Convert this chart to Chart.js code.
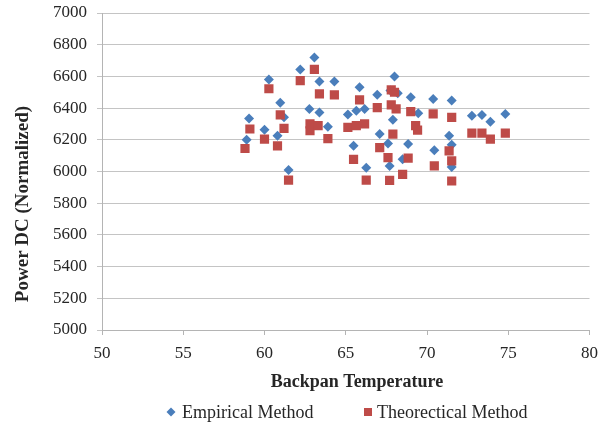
<!DOCTYPE html>
<html>
<head>
<meta charset="utf-8">
<script src="https://cdn.jsdelivr.net/npm/chart.js@4.4.0/dist/chart.umd.min.js"></script>
<style>
  html, body { margin: 0; padding: 0; background: #fff; }
  #chart { display: block; }
</style>
</head>
<body>
<canvas id="chart" width="606" height="430"></canvas>
<script>
// series
const seriesNames = ['Empirical Method', 'Theorectical Method'];
const seriesColors = ['#4a7ebb', '#be4b48'];
const xTitle = 'Backpan Temperature';
const yTitle = 'Power DC (Normalized)';

const empiricalTemp = [58.9, 59.05, 60.0, 60.27, 60.8, 60.97, 61.2, 61.48, 62.2, 62.76,
  63.07, 63.38, 63.38, 63.9, 64.3, 65.13, 65.48, 65.65, 65.85, 66.16,
  66.26, 66.94, 67.09, 67.6, 67.7, 67.75, 68.2, 67.9, 68.0, 68.5,
  68.84, 69.0, 69.46, 70.38, 70.45, 71.36, 71.52, 71.52, 71.52, 72.76,
  73.38, 73.9, 74.82];
const empiricalPower = [6200, 6335, 6263, 6580, 6225, 6433, 6342, 6009, 6644, 6395,
  6719, 6568, 6373, 6282, 6568, 6359, 6162, 6384, 6532, 6395,
  6024, 6484, 6236, 6176, 6035, 6511, 6494, 6327, 6600, 6077,
  6173, 6469, 6368, 6458, 6134, 6225, 6168, 6448, 6028, 6352,
  6357, 6314, 6363];

const theoreticalTemp = [58.8, 59.1, 60.0, 60.27, 60.8, 60.97, 61.2, 61.48, 62.2, 62.8,
  62.8, 63.3, 63.07, 63.38, 63.9, 64.3, 65.13, 65.48, 65.65, 65.85,
  66.16, 66.26, 66.94, 67.09, 67.6, 67.7, 67.8, 68.0, 67.8, 68.1,
  67.9, 68.5, 68.84, 69.0, 69.3, 69.42, 70.38, 70.45, 71.36, 71.52,
  71.52, 71.52, 72.76, 73.38, 73.9, 74.82];
const theoreticalPower = [6145, 6268, 6204, 6522, 6162, 6357, 6272, 5946, 6573, 6300,
  6257, 6290, 6644, 6490, 6208, 6484, 6278, 6077, 6289, 6452,
  6300, 5946, 6403, 6151, 6088, 5944, 6515, 6500, 6420, 6395,
  6236, 5982, 6084, 6378, 6289, 6261, 6363, 6035, 6130, 6342,
  6067, 5940, 6242, 6242, 6204, 6242];

const xTicks = [50, 55, 60, 65, 70, 75, 80];
const yTicks = [5000, 5200, 5400, 5600, 5800, 6000, 6200, 6400, 6600, 6800, 7000];

const serif = '"Liberation Serif", "Times New Roman", serif';
const textColor = '#262626';

function toPoints(xs, ys) {
    return xs.map((x, i) => ({ x: x, y: ys[i] }));
}

// axis titles and legend, placed the way Excel placed them
const excelLabels = {
    id: 'excelLabels',
    afterDraw(chart) {
        const c = chart.ctx;
        c.save();
        c.fillStyle = textColor;
        c.textBaseline = 'middle';
        c.textAlign = 'center';

        // titles
        c.font = 'bold 18px ' + serif;
        c.fillText(xTitle, 357, 382);
        c.save();
        c.translate(23, 204);
        c.rotate(-Math.PI / 2);
        c.font = 'bold 19px ' + serif;
        c.fillText(yTitle, 0, 0);
        c.restore();

        // legend
        const y = 412;
        c.font = '18px ' + serif;
        c.textAlign = 'left';

        c.fillStyle = seriesColors[0];
        c.beginPath();
        c.moveTo(171, y - 4.5);
        c.lineTo(175.5, y);
        c.lineTo(171, y + 4.5);
        c.lineTo(166.5, y);
        c.closePath();
        c.fill();
        c.fillStyle = textColor;
        c.fillText(chart.data.datasets[0].label, 182, y + 1);

        c.fillStyle = seriesColors[1];
        c.fillRect(364, y - 4, 8, 8);
        c.fillStyle = textColor;
        c.fillText(chart.data.datasets[1].label, 377, y + 1);
        c.restore();
    }
};

const ctx = document.getElementById('chart').getContext('2d');

new Chart(ctx, {
    type: 'scatter',
    data: {
        datasets: [{
            label: seriesNames[0],
            data: toPoints(empiricalTemp, empiricalPower),
            pointStyle: 'rectRot',
            pointRadius: 5,
            backgroundColor: seriesColors[0],
            borderColor: seriesColors[0],
            borderWidth: 0,
            order: 1
        }, {
            label: seriesNames[1],
            data: toPoints(theoreticalTemp, theoreticalPower),
            pointStyle: 'rect',
            pointRadius: 6.5,
            backgroundColor: seriesColors[1],
            borderColor: seriesColors[1],
            borderWidth: 0,
            order: 0
        }]
    },
    options: {
        responsive: false,
        animation: false,
        devicePixelRatio: 1,
        layout: {
            padding: { top: 13, right: 14, bottom: 0, left: 0 }
        },
        scales: {
            x: {
                type: 'linear',
                min: xTicks[0],
                max: xTicks[xTicks.length - 1],
                afterBuildTicks: function(scale) {
                    scale.ticks = xTicks.map(v => ({ value: v }));
                },
                afterFit: function(scale) {
                    scale.height = 100;
                },
                border: { display: true, color: '#b4b4b4', width: 1 },
                grid: {
                    drawOnChartArea: false,
                    drawTicks: true,
                    tickLength: 5,
                    color: '#b4b4b4'
                },
                ticks: {
                    padding: 8,
                    maxRotation: 0,
                    color: textColor,
                    font: { family: serif, size: 17 }
                }
            },
            y: {
                type: 'linear',
                min: yTicks[0],
                max: yTicks[yTicks.length - 1],
                afterBuildTicks: function(scale) {
                    scale.ticks = yTicks.map(v => ({ value: v }));
                },
                afterFit: function(scale) {
                    scale.width = 102;
                },
                border: { display: true, color: '#b4b4b4', width: 1 },
                grid: {
                    drawTicks: true,
                    tickLength: 5,
                    color: '#c4c4c4'
                },
                ticks: {
                    padding: 10,
                    color: textColor,
                    font: { family: serif, size: 17, lineHeight: 0.3 },
                    callback: v => String(v)
                }
            }
        },
        plugins: {
            legend: { display: false },
            tooltip: { enabled: false }
        }
    },
    plugins: [excelLabels]
});
</script>
</body>
</html>
